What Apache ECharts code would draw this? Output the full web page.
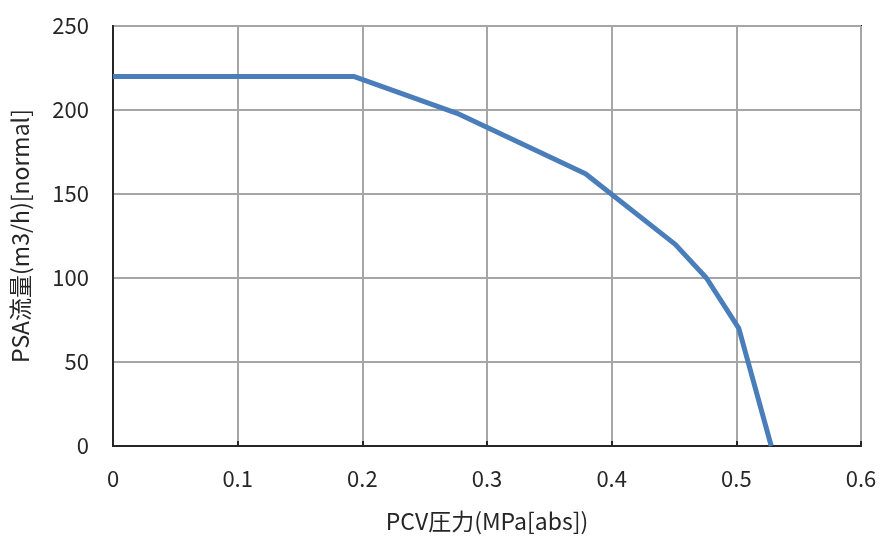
<!DOCTYPE html>
<html><head><meta charset="utf-8">
<script src="https://cdn.jsdelivr.net/npm/echarts@6/dist/echarts.min.js"></script>
<style>html,body{margin:0;padding:0;background:#fff}#c{width:884px;height:541px}</style>
</head><body><div id="c"></div>
<script>
const xName = 'PCV圧力(MPa[abs])';
const yName = 'PSA流量(m3/h)[normal]';
const pressure = [0, 0.193, 0.276, 0.379, 0.451, 0.476, 0.502, 0.528];
const flow = [220, 220, 198, 162, 120, 100, 70, 0];
const xTicks = [0, 0.1, 0.2, 0.3, 0.4, 0.5, 0.6];
const yTicks = [0, 50, 100, 150, 200, 250];

const font = '"Noto Sans CJK JP", "Noto Sans", sans-serif';
const chart = echarts.init(document.getElementById('c'));
chart.setOption({
  animation: false,
  grid: {left: 113, right: 23, top: 26, bottom: 95, containLabel: false, outerBoundsMode: 'none',
         show: true, borderColor: '#262626', borderWidth: 2},
  xAxis: {
    type: 'value', min: xTicks[0], max: xTicks[xTicks.length-1], interval: 0.1,
    name: xName, nameLocation: 'middle', nameGap: 64,
    nameTextStyle: {fontFamily: font, fontSize: 23, color: '#262626'},
    axisLine: {lineStyle: {color: '#262626', width: 2}},
    axisTick: {show: true, inside: true, length: 5, lineStyle: {color: '#262626', width: 2}},
    axisLabel: {fontFamily: font, fontSize: 22, color: '#262626', margin: 22, formatter: v => String(+v.toFixed(1))},
    splitLine: {show: true, lineStyle: {color: '#a6a6a6', width: 2}}
  },
  yAxis: {
    type: 'value', min: yTicks[0], max: yTicks[yTicks.length-1], interval: 50,
    name: yName, nameLocation: 'middle', nameGap: 81,
    nameTextStyle: {fontFamily: font, fontSize: 23, color: '#262626'},
    axisLine: {show: true, lineStyle: {color: '#262626', width: 2}},
    axisTick: {show: false},
    axisLabel: {fontFamily: font, fontSize: 22, color: '#262626', margin: 24},
    splitLine: {show: true, lineStyle: {color: '#a6a6a6', width: 2}}
  },
  series: [{
    type: 'line',
    data: pressure.map((p, i) => [p, flow[i]]),
    showSymbol: false,
    lineStyle: {color: '#4a7ebb', width: 5, cap: 'butt', join: 'round'}
  }]
});
</script></body></html>
